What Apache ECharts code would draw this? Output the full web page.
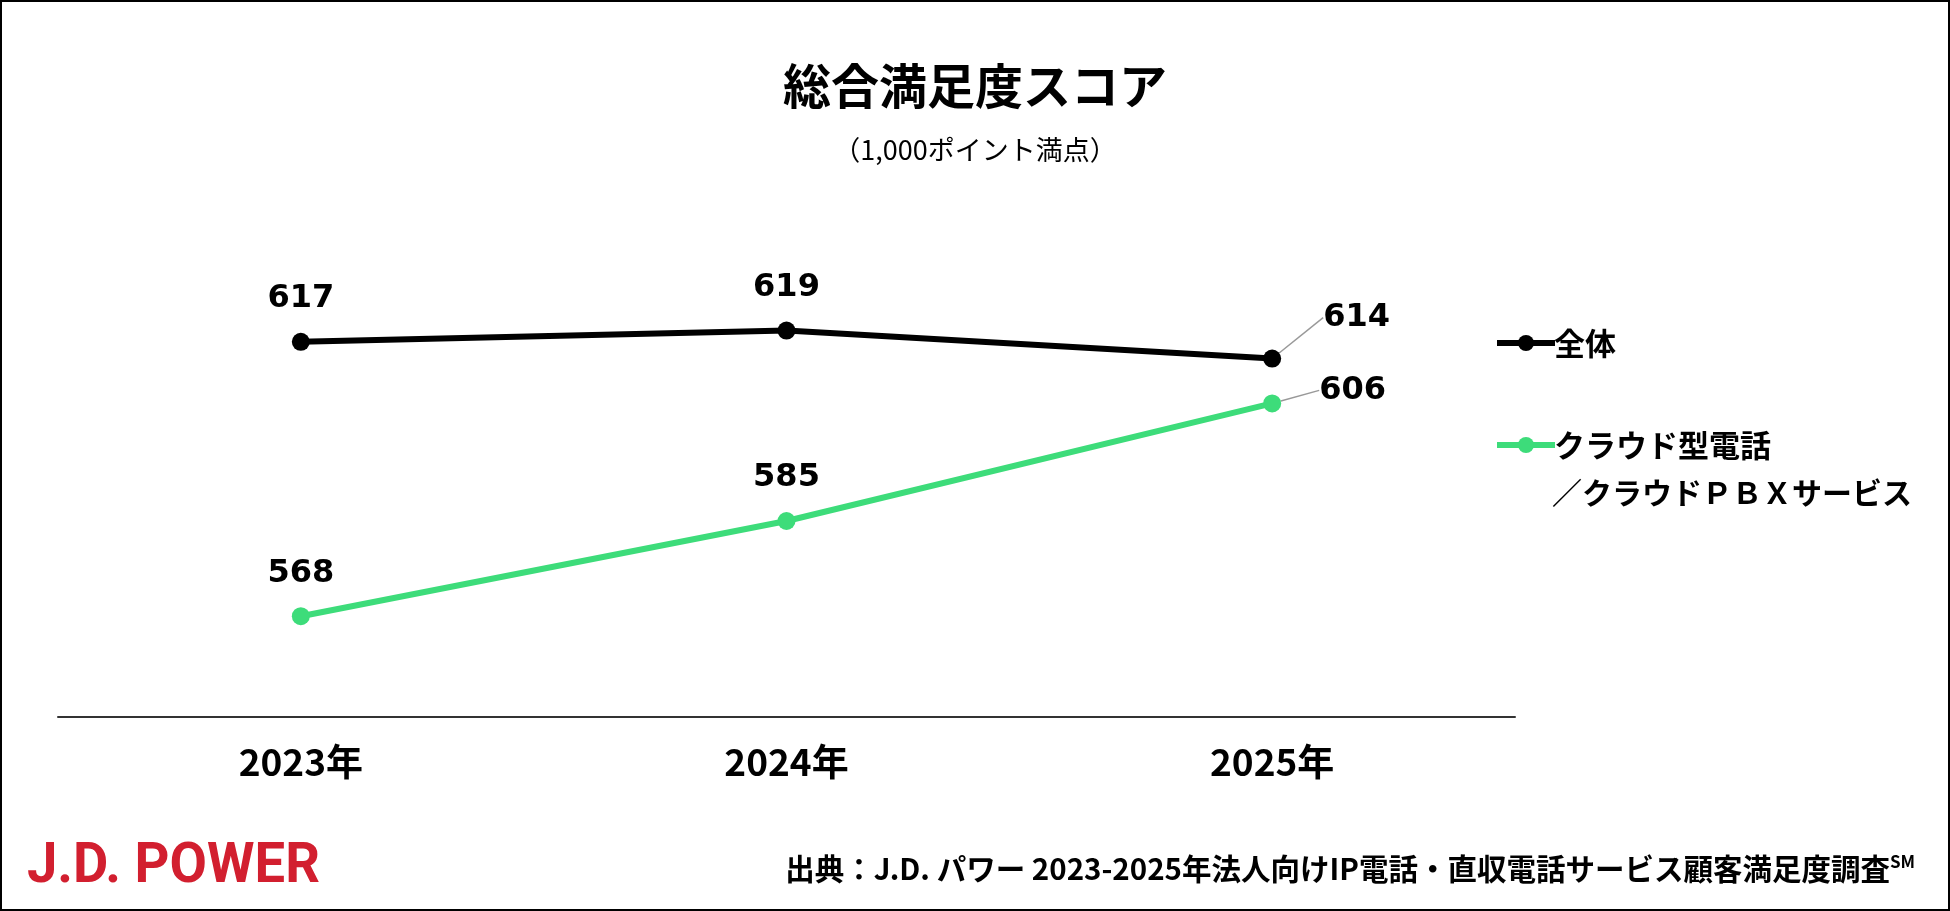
<!DOCTYPE html>
<html>
<head>
<meta charset="utf-8">
<script src="https://cdn.jsdelivr.net/npm/echarts@6/dist/echarts.min.js"></script>
<style>
  html, body { margin: 0; padding: 0; background: #fff; }
  #main { width: 1950px; height: 911px; }
</style>
</head>
<body>
<div id="main"></div>
<script>
// データ
var years = ['2023年', '2024年', '2025年'];
var allScores = [617, 619, 614];
var cloudScores = [568, 585, 606];
var seriesNames = ['全体', 'クラウド型電話／クラウドＰＢＸサービス'];

var JP = '"Noto Sans CJK JP", "Noto Sans", sans-serif';
var NUM = '"DejaVu Sans", sans-serif';

// 最終年だけラベルを右上に出して引き出し線を付ける
function buildData(values, lastPos) {
  return values.map(function (v, i) {
    if (i !== values.length - 1) return v;
    return {
      value: v,
      label: { position: lastPos },
      labelLine: { show: true }
    };
  });
}

var myChart = echarts.init(document.getElementById('main'));

var labelStyle = {
  show: true,
  position: 'top',
  distance: 18,
  color: '#000',
  fontFamily: NUM,
  fontWeight: 'bold',
  fontSize: 32
};

var option = {
  backgroundColor: '#fff',
  animation: false,
  title: {
    text: '総合満足度スコア',
    subtext: '（1,000ポイント満点）',
    left: 'center',
    top: 57,
    itemGap: 26,
    textStyle: { fontFamily: JP, fontWeight: 'bold', fontSize: 48, color: '#000' },
    subtextStyle: { fontFamily: JP, fontSize: 27, color: '#000' }
  },
  legend: {
    orient: 'vertical',
    left: 1489,
    top: 318,
    itemWidth: 58,
    itemHeight: 20,
    itemGap: 62,
    data: seriesNames,
    formatter: function (name) {
      return name.split('／')[0];
    },
    lineStyle: { width: 6 },
    textStyle: { fontFamily: JP, fontWeight: 'bold', fontSize: 31, color: '#000', lineHeight: 40, padding: [0, 0, 0, -6] }
  },
  grid: { left: 58, right: 435, top: 157, bottom: 194 },
  xAxis: {
    type: 'category',
    data: years,
    boundaryGap: true,
    axisLine: { lineStyle: { color: '#333', width: 2 } },
    axisTick: { show: false },
    axisLabel: { margin: 26, color: '#000', fontFamily: JP, fontWeight: 'bold', fontSize: 37 }
  },
  yAxis: {
    type: 'value',
    min: 550,
    max: 650,
    show: false
  },
  series: [
    {
      name: seriesNames[0],
      type: 'line',
      data: buildData(allScores, [60, -48]),
      symbol: 'circle',
      symbolSize: 18,
      lineStyle: { color: '#000', width: 6 },
      itemStyle: { color: '#000' },
      label: labelStyle,
      labelLine: { show: false, lineStyle: { color: '#999', width: 1.5 } }
    },
    {
      name: seriesNames[1],
      type: 'line',
      data: buildData(cloudScores, [56, -20]),
      symbol: 'circle',
      symbolSize: 18,
      lineStyle: { color: '#3ddc7a', width: 6 },
      itemStyle: { color: '#3ddc7a' },
      label: labelStyle,
      labelLine: { show: false, lineStyle: { color: '#999', width: 1.5 } }
    }
  ],
  graphic: [
    {
      type: 'text',
      left: 1552,
      top: 478,
      style: {
        text: '／クラウドＰＢＸサービス',
        font: 'bold 30px ' + JP,
        fill: '#000'
      }
    },
    {
      type: 'text',
      x: 27,
      y: 840,
      scaleX: 0.97,
      style: {
        text: 'J.D. POWER',
        font: 'bold 56px Roboto, sans-serif',
        fill: '#d21f2f'
      }
    },
    {
      type: 'text',
      right: 35,
      top: 853,
      style: {
        text: '{a|出典：J.D. パワー 2023-2025年法人向けIP電話・直収電話サービス顧客満足度調査}{b|SM}',
        rich: {
          a: { fontFamily: JP, fontWeight: 'bold', fontSize: 29.5, color: '#000', verticalAlign: 'bottom' },
          b: { fontFamily: JP, fontWeight: 'bold', fontSize: 17, color: '#000', verticalAlign: 'top', padding: [0, 0, 14, 0] }
        }
      }
    },
    {
      type: 'rect',
      shape: { x: 1, y: 1, width: 1948, height: 909 },
      style: { fill: 'none', stroke: '#000', lineWidth: 2 }
    }
  ]
};

myChart.setOption(option);
</script>
</body>
</html>
